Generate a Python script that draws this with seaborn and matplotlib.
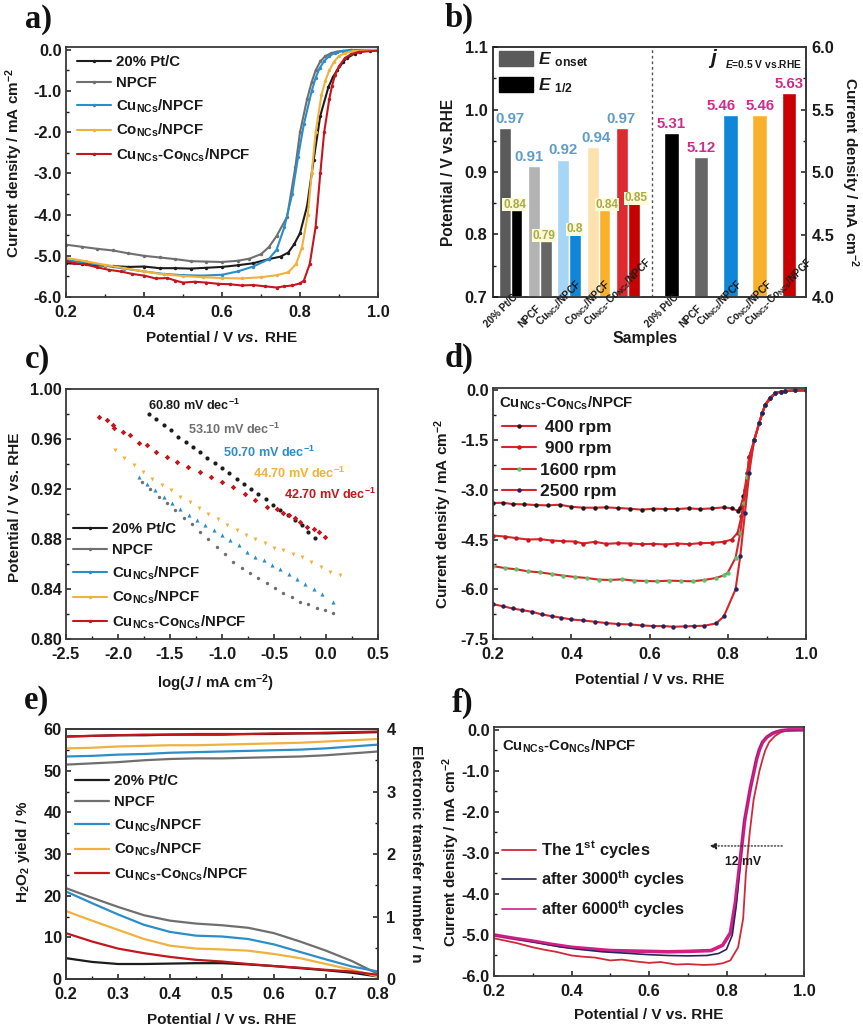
import numpy as np
import pandas as pd
import matplotlib
matplotlib.use("Agg")
import matplotlib.pyplot as plt
import seaborn as sns
from matplotlib.lines import Line2D
from matplotlib.patches import Patch
from matplotlib.ticker import AutoMinorLocator, MultipleLocator, FormatStrFormatter
from matplotlib.transforms import ScaledTranslation

W, H = 863, 1029

BLACK = "#1c1c1c"
GREY = "#6f6f6f"
BLUE = "#2b8ec9"
ORANGE = "#efb23f"
RED = "#c4161d"

PT = "20% Pt/C"
NPCF = "NPCF"
CU = r"Cu$_{\mathrm{NCs}}$/NPCF"
CO = r"Co$_{\mathrm{NCs}}$/NPCF"
CUCO = r"Cu$_{\mathrm{NCs}}$-Co$_{\mathrm{NCs}}$/NPCF"
sample_names = [PT, NPCF, CU, CO, CUCO]
sample_colors = [BLACK, GREY, BLUE, ORANGE, RED]

# panel a, LSV curves
a_pt_x = [0.20, 0.24, 0.28, 0.32, 0.36, 0.40, 0.44, 0.48, 0.52, 0.56, 0.60, 0.64, 0.68, 0.72, 0.75, 0.77, 0.785, 0.80, 0.818, 0.835, 0.852, 0.873, 0.885, 0.895, 0.91, 0.92, 0.94, 0.955, 0.98, 1.00]
a_pt_y = [-5.18, -5.20, -5.23, -5.25, -5.27, -5.26, -5.30, -5.30, -5.31, -5.29, -5.27, -5.23, -5.18, -5.08, -5.02, -4.92, -4.72, -4.45, -3.80, -2.67, -1.60, -0.90, -0.65, -0.50, -0.30, -0.20, -0.09, -0.04, -0.015, -0.01]
a_npcf_x = [0.20, 0.24, 0.28, 0.32, 0.36, 0.40, 0.44, 0.48, 0.52, 0.56, 0.60, 0.64, 0.67, 0.70, 0.72, 0.74, 0.767, 0.788, 0.80, 0.818, 0.83, 0.84, 0.852, 0.865, 0.88, 0.895, 0.93, 1.00]
a_npcf_y = [-4.73, -4.78, -4.83, -4.87, -4.94, -5.00, -5.04, -5.08, -5.13, -5.14, -5.15, -5.12, -5.07, -4.96, -4.79, -4.52, -4.05, -2.85, -2.00, -1.20, -0.78, -0.50, -0.28, -0.15, -0.08, -0.04, 0.00, 0.00]
a_cu_x = [0.20, 0.25, 0.30, 0.35, 0.40, 0.45, 0.50, 0.55, 0.60, 0.64, 0.68, 0.72, 0.74, 0.76, 0.78, 0.795, 0.81, 0.83, 0.84, 0.85, 0.862, 0.875, 0.89, 0.91, 1.00]
a_cu_y = [-5.10, -5.17, -5.24, -5.31, -5.38, -5.44, -5.47, -5.48, -5.46, -5.38, -5.26, -5.08, -4.85, -4.30, -3.50, -2.60, -1.80, -1.00, -0.68, -0.45, -0.27, -0.15, -0.07, -0.03, 0.00]
a_co_x = [0.20, 0.25, 0.30, 0.35, 0.40, 0.45, 0.50, 0.55, 0.60, 0.65, 0.70, 0.74, 0.77, 0.79, 0.805, 0.82, 0.83, 0.84, 0.855, 0.865, 0.875, 0.887, 0.90, 0.915, 0.935, 1.00]
a_co_y = [-5.05, -5.13, -5.22, -5.30, -5.38, -5.45, -5.49, -5.52, -5.54, -5.55, -5.52, -5.47, -5.40, -5.20, -4.80, -4.00, -3.00, -2.00, -1.10, -0.75, -0.50, -0.29, -0.15, -0.08, -0.03, 0.00]
a_cuco_x = [0.20, 0.22, 0.25, 0.28, 0.31, 0.34, 0.37, 0.40, 0.43, 0.46, 0.48, 0.50, 0.53, 0.56, 0.59, 0.62, 0.65, 0.68, 0.71, 0.74, 0.76, 0.78, 0.80, 0.81, 0.825, 0.84, 0.852, 0.862, 0.875, 0.882, 0.89, 0.90, 0.915, 0.93, 0.95, 1.00]
a_cuco_y = [-5.12, -5.18, -5.21, -5.28, -5.34, -5.38, -5.44, -5.48, -5.55, -5.54, -5.60, -5.65, -5.63, -5.65, -5.68, -5.69, -5.72, -5.71, -5.74, -5.77, -5.74, -5.72, -5.67, -5.60, -5.20, -4.30, -3.00, -2.00, -1.20, -0.88, -0.60, -0.40, -0.20, -0.11, -0.05, -0.02]

# panel b, bars
e_onset = [0.97, 0.91, 0.92, 0.94, 0.97]
e_half = [0.84, 0.79, 0.80, 0.84, 0.85]
j_limit = [5.31, 5.12, 5.46, 5.46, 5.63]
onset_colors = ["#5a5a5a", "#b3b3b3", "#a6d5f5", "#fde2ae", "#dc2a30"]
half_colors = ["#000000", "#666666", "#0f86d8", "#fbb02c", "#c80000"]
right_colors = half_colors

# panel c, Tafel points
c_pt_x = [-1.70, -1.63, -1.56, -1.49, -1.42, -1.35, -1.28, -1.21, -1.14, -1.07, -1.00, -0.93, -0.86, -0.79, -0.72, -0.65, -0.58, -0.51, -0.44, -0.37, -0.30, -0.23, -0.17, -0.11]
c_pt_y = [0.980, 0.976, 0.971, 0.967, 0.962, 0.958, 0.954, 0.950, 0.945, 0.941, 0.937, 0.933, 0.928, 0.924, 0.920, 0.916, 0.912, 0.907, 0.903, 0.899, 0.895, 0.891, 0.886, 0.881]
c_npcf_x = [-1.77, -1.69, -1.61, -1.53, -1.45, -1.37, -1.29, -1.21, -1.13, -1.05, -0.97, -0.89, -0.81, -0.73, -0.65, -0.57, -0.49, -0.41, -0.33, -0.25, -0.17, -0.09, -0.01, 0.07]
c_npcf_y = [0.926, 0.920, 0.914, 0.909, 0.903, 0.897, 0.892, 0.886, 0.880, 0.874, 0.868, 0.862, 0.857, 0.853, 0.849, 0.845, 0.841, 0.837, 0.834, 0.830, 0.828, 0.825, 0.823, 0.821]
c_cu_x = [-1.80, -1.72, -1.64, -1.56, -1.48, -1.40, -1.32, -1.24, -1.16, -1.08, -1.00, -0.92, -0.84, -0.76, -0.68, -0.60, -0.52, -0.44, -0.36, -0.28, -0.20, -0.12, -0.04, 0.07]
c_cu_y = [0.930, 0.924, 0.919, 0.914, 0.909, 0.904, 0.899, 0.895, 0.891, 0.887, 0.883, 0.879, 0.875, 0.870, 0.866, 0.863, 0.859, 0.856, 0.852, 0.848, 0.844, 0.840, 0.836, 0.830]
c_co_x = [-2.03, -1.94, -1.85, -1.76, -1.67, -1.58, -1.49, -1.40, -1.31, -1.22, -1.13, -1.04, -0.95, -0.86, -0.77, -0.68, -0.59, -0.50, -0.41, -0.32, -0.23, -0.14, -0.05, 0.04, 0.13]
c_co_y = [0.951, 0.945, 0.939, 0.934, 0.928, 0.923, 0.919, 0.914, 0.910, 0.905, 0.900, 0.896, 0.891, 0.887, 0.883, 0.880, 0.877, 0.873, 0.871, 0.868, 0.866, 0.862, 0.858, 0.854, 0.851]
c_cuco_x = [-2.18, -2.11, -2.05, -2.04, -1.95, -1.88, -1.80, -1.72, -1.63, -1.53, -1.43, -1.33, -1.21, -1.11, -1.00, -0.89, -0.78, -0.68, -0.57, -0.47, -0.41, -0.36, -0.30, -0.25, -0.18, -0.12, -0.07, -0.01]
c_cuco_y = [0.978, 0.975, 0.971, 0.969, 0.966, 0.963, 0.957, 0.955, 0.950, 0.946, 0.942, 0.938, 0.934, 0.930, 0.926, 0.922, 0.916, 0.911, 0.906, 0.904, 0.901, 0.899, 0.897, 0.894, 0.890, 0.888, 0.886, 0.882]
tafel_labels = ["60.80 mV dec$^{-1}$", "53.10 mV dec$^{-1}$", "50.70 mV dec$^{-1}$", "44.70 mV dec$^{-1}$", "42.70 mV dec$^{-1}$"]

# panel d, rotating speeds
d_rpm = [" 400 rpm", " 900 rpm", "1600 rpm", "2500 rpm"]
d_marker_colors = ["#1a1a1a", "#c8181e", "#5cc46a", "#23235f"]
d_400_x = [0.20, 0.225, 0.25, 0.28, 0.31, 0.34, 0.37, 0.40, 0.43, 0.46, 0.49, 0.52, 0.55, 0.58, 0.61, 0.64, 0.67, 0.70, 0.73, 0.76, 0.79, 0.81, 0.825, 0.832, 0.84, 0.85, 0.855, 0.868, 0.88, 0.888, 0.896, 0.908, 0.922, 0.935, 0.947, 0.973, 1.00]
d_400_y = [-3.40, -3.39, -3.43, -3.44, -3.46, -3.47, -3.45, -3.51, -3.54, -3.54, -3.53, -3.55, -3.57, -3.60, -3.57, -3.58, -3.58, -3.56, -3.58, -3.56, -3.53, -3.56, -3.63, -3.55, -3.20, -2.50, -2.00, -1.50, -1.00, -0.68, -0.43, -0.22, -0.08, -0.04, -0.02, 0.00, 0.00]
d_900_x = [0.20, 0.23, 0.26, 0.29, 0.32, 0.35, 0.38, 0.41, 0.43, 0.46, 0.49, 0.52, 0.55, 0.58, 0.61, 0.64, 0.67, 0.70, 0.73, 0.76, 0.79, 0.81, 0.825, 0.835, 0.845, 0.855, 0.868, 0.88, 0.896, 0.922, 0.947, 1.00]
d_900_y = [-4.38, -4.41, -4.46, -4.50, -4.49, -4.53, -4.55, -4.56, -4.62, -4.57, -4.63, -4.61, -4.62, -4.64, -4.63, -4.65, -4.62, -4.64, -4.61, -4.60, -4.57, -4.50, -4.30, -3.80, -3.00, -2.00, -1.50, -1.00, -0.43, -0.08, -0.02, 0.00]
d_1600_x = [0.20, 0.23, 0.26, 0.29, 0.32, 0.35, 0.38, 0.41, 0.44, 0.47, 0.50, 0.53, 0.56, 0.59, 0.62, 0.65, 0.68, 0.71, 0.74, 0.77, 0.79, 0.80, 0.82, 0.832, 0.842, 0.85, 0.868, 0.88, 0.896, 0.922, 0.947, 1.00]
d_1600_y = [-5.30, -5.36, -5.40, -5.46, -5.49, -5.54, -5.59, -5.63, -5.66, -5.71, -5.72, -5.70, -5.74, -5.75, -5.76, -5.74, -5.75, -5.76, -5.72, -5.66, -5.58, -5.50, -5.05, -4.30, -3.40, -2.60, -1.50, -1.00, -0.43, -0.08, -0.02, 0.00]
d_2500_x = [0.20, 0.225, 0.25, 0.275, 0.30, 0.325, 0.35, 0.375, 0.40, 0.43, 0.46, 0.49, 0.52, 0.55, 0.58, 0.61, 0.635, 0.66, 0.69, 0.715, 0.74, 0.77, 0.79, 0.82, 0.832, 0.844, 0.855, 0.867, 0.88, 0.888, 0.896, 0.908, 0.922, 0.935, 0.947, 0.973, 1.00]
d_2500_y = [-6.45, -6.51, -6.58, -6.63, -6.68, -6.76, -6.81, -6.86, -6.91, -6.94, -6.98, -7.02, -7.05, -7.06, -7.09, -7.11, -7.11, -7.13, -7.12, -7.11, -7.10, -7.03, -6.82, -6.00, -5.00, -3.70, -2.50, -1.50, -1.00, -0.68, -0.43, -0.22, -0.08, -0.04, -0.02, 0.00, 0.00]

# panel e, yield (left axis) and transfer number (right axis)
e_x = [0.20, 0.25, 0.30, 0.35, 0.40, 0.45, 0.50, 0.55, 0.60, 0.65, 0.70, 0.75, 0.80]
yield_pt = [5.0, 4.1, 3.6, 3.6, 3.7, 3.8, 3.8, 3.5, 3.1, 2.6, 2.1, 1.5, 0.6]
yield_npcf = [21.8, 19.5, 17.3, 15.3, 14.0, 13.3, 12.9, 12.3, 11.0, 9.0, 6.8, 4.3, 1.2]
yield_cu = [21.0, 18.2, 15.5, 13.0, 11.3, 10.4, 10.2, 9.6, 8.3, 6.5, 4.7, 3.0, 1.8]
yield_co = [16.3, 14.0, 11.8, 9.6, 8.0, 7.3, 7.1, 6.8, 6.0, 5.0, 3.6, 2.2, 0.6]
yield_cuco = [11.0, 9.0, 7.3, 6.2, 5.3, 4.6, 4.2, 3.6, 3.1, 2.7, 2.2, 1.8, 1.0]
n_pt = [3.88, 3.89, 3.90, 3.90, 3.91, 3.91, 3.91, 3.92, 3.92, 3.93, 3.93, 3.94, 3.95]
n_npcf = [3.43, 3.45, 3.47, 3.50, 3.52, 3.53, 3.53, 3.54, 3.55, 3.56, 3.58, 3.61, 3.64]
n_cu = [3.56, 3.57, 3.59, 3.60, 3.62, 3.63, 3.64, 3.65, 3.66, 3.67, 3.69, 3.72, 3.75]
n_co = [3.69, 3.70, 3.72, 3.73, 3.74, 3.74, 3.75, 3.76, 3.77, 3.78, 3.80, 3.82, 3.84]
n_cuco = [3.88, 3.89, 3.90, 3.91, 3.91, 3.92, 3.92, 3.92, 3.93, 3.93, 3.94, 3.95, 3.96]

# panel f, stability
f_first_x = [0.20, 0.23, 0.26, 0.30, 0.33, 0.36, 0.40, 0.43, 0.46, 0.50, 0.53, 0.56, 0.60, 0.63, 0.67, 0.70, 0.74, 0.77, 0.79, 0.81, 0.83, 0.843, 0.85, 0.86, 0.87, 0.885, 0.893, 0.90, 0.91, 0.925, 0.94, 0.95, 1.00]
f_first_y = [-5.08, -5.14, -5.20, -5.30, -5.36, -5.41, -5.50, -5.53, -5.55, -5.62, -5.60, -5.64, -5.68, -5.66, -5.72, -5.71, -5.73, -5.72, -5.69, -5.62, -5.30, -4.60, -3.50, -2.50, -1.70, -1.00, -0.72, -0.50, -0.30, -0.15, -0.06, -0.03, 0.00]
f_3000_x = [0.20, 0.26, 0.32, 0.37, 0.42, 0.48, 0.55, 0.60, 0.65, 0.70, 0.75, 0.78, 0.80, 0.815, 0.825, 0.835, 0.845, 0.86, 0.875, 0.882, 0.89, 0.90, 0.915, 0.93, 0.95, 1.00]
f_3000_y = [-5.00, -5.10, -5.20, -5.29, -5.35, -5.41, -5.45, -5.48, -5.50, -5.51, -5.50, -5.45, -5.35, -5.00, -4.30, -3.30, -2.30, -1.50, -0.80, -0.55, -0.35, -0.21, -0.10, -0.04, -0.01, 0.00]
f_6000_x = [0.20, 0.25, 0.30, 0.35, 0.40, 0.45, 0.50, 0.55, 0.60, 0.65, 0.70, 0.76, 0.79, 0.81, 0.823, 0.835, 0.847, 0.862, 0.878, 0.885, 0.893, 0.905, 0.92, 0.94, 0.96, 1.00]
f_6000_y = [-5.00, -5.08, -5.15, -5.23, -5.30, -5.34, -5.38, -5.39, -5.40, -5.41, -5.40, -5.38, -5.25, -4.95, -4.20, -3.20, -2.20, -1.40, -0.70, -0.48, -0.30, -0.17, -0.08, -0.02, 0.00, 0.00]


sns.set_theme(style="ticks", rc={
    "axes.edgecolor": "#3a3a3a",
    "axes.linewidth": 1.3,
    "axes.unicode_minus": False,
    "axes.labelcolor": "#1a1a1a",
    "text.color": "#1a1a1a",
    "xtick.color": "#1a1a1a",
    "ytick.color": "#1a1a1a",
    "xtick.direction": "in",
    "ytick.direction": "in",
    "mathtext.fontset": "custom",
    "mathtext.rm": "Liberation Sans:bold",
    "mathtext.bf": "Liberation Sans:bold",
    "mathtext.it": "Liberation Sans:italic:bold",
    "mathtext.default": "rm",
})
plt.rcParams["font.family"] = ["Liberation Sans", "DejaVu Sans"]
plt.rcParams["font.weight"] = "bold"
plt.rcParams["axes.labelweight"] = "bold"


def make_axes(fig, left, right, top, bottom):
    return fig.add_axes([left / W, 1 - bottom / H, (right - left) / W, (bottom - top) / H])


def style_axes(ax, xmajor, ymajor, xfmt, yfmt, ticksize=11.8):
    ax.xaxis.set_major_locator(MultipleLocator(xmajor))
    ax.yaxis.set_major_locator(MultipleLocator(ymajor))
    ax.xaxis.set_minor_locator(AutoMinorLocator(2))
    ax.yaxis.set_minor_locator(AutoMinorLocator(2))
    ax.xaxis.set_major_formatter(FormatStrFormatter(xfmt))
    ax.yaxis.set_major_formatter(FormatStrFormatter(yfmt))
    ax.tick_params(which="major", length=3.5, width=1.1, labelsize=ticksize, pad=3)
    ax.tick_params(which="minor", length=2, width=1.0)
    ax.tick_params(axis="x", which="major", pad=6)


def curve(ax, x, y, color, label=None, lw=1.5, marker="o", ms=2.5, mfc=None):
    sns.lineplot(x=x, y=y, color=color, label=label, lw=lw, marker=marker, markersize=ms,
                 markerfacecolor=mfc or color, markeredgewidth=0, sort=False, errorbar=None, ax=ax)


def legend_box(ax, handles, labels, x, y, size=10.8, spacing=0.48, hlen=2.25, **kws):
    kws.setdefault("handletextpad", 0.33)
    ax.legend(handles, labels, loc="upper left", bbox_to_anchor=(x, y), frameon=False, fontsize=size,
              labelspacing=spacing, handlelength=hlen, borderpad=0, borderaxespad=0, **kws)


fig = plt.figure(figsize=(W / 100, H / 100), dpi=100)

LABEL_SIZE = 11
panel_marks = [("a)", 25, 28), ("b)", 445, 27), ("c)", 25, 368), ("d)", 445, 367), ("e)", 24, 709), ("f)", 452, 712)]
for mark, px, py in panel_marks:
    fig.text(px / W, 1 - py / H, mark, family="Liberation Serif", weight="bold", size=23.5, color="#111111")

# a
ax = make_axes(fig, 66, 378, 47, 297)
a_series = [(a_pt_x, a_pt_y), (a_npcf_x, a_npcf_y), (a_cu_x, a_cu_y), (a_co_x, a_co_y), (a_cuco_x, a_cuco_y)]
for (x, y), name, color in zip(a_series, sample_names, sample_colors):
    curve(ax, x, y, color, label=name)
ax.set_xlim(0.2, 1.0)
ax.set_ylim(-6, 0.07)
style_axes(ax, 0.2, 1, "%.1f", "%.1f")
ax.set_xlabel(r"Potential / V $\mathit{vs.}$ RHE", fontsize=LABEL_SIZE, labelpad=7)
ax.set_ylabel("Current density / mA cm$^{-2}$", fontsize=LABEL_SIZE, labelpad=6)
ax.yaxis.label.set_y(0.536)
h, l = ax.get_legend_handles_labels()
legend_box(ax, h, l, 0.035, 0.968)

# b
ax = make_axes(fig, 493, 806, 47, 297)
group_pos = np.arange(5)
right_pos = np.arange(5) + 5.5
sns.barplot(x=group_pos - 0.2, y=e_onset, hue=sample_names, palette=onset_colors, native_scale=True,
            dodge=False, width=0.4, legend=False, ax=ax, saturation=1)
sns.barplot(x=group_pos + 0.2, y=e_half, hue=sample_names, palette=half_colors, native_scale=True,
            dodge=False, width=0.4, legend=False, ax=ax, saturation=1)
ax.set_xlim(-0.6, 10.08)
ax.set_ylim(0.7, 1.1)
ax.yaxis.set_major_locator(MultipleLocator(0.1))
ax.yaxis.set_minor_locator(AutoMinorLocator(2))
ax.yaxis.set_major_formatter(FormatStrFormatter("%.1f"))
ax.tick_params(axis="y", which="major", length=3.5, width=1.1, labelsize=11.8, pad=4)
ax.tick_params(axis="y", which="minor", length=2, width=1.0)
ax.axvline(4.83, color="#555555", lw=1.0, ls=(0, (2, 2)))
ax.set_ylabel("Potential / V vs.RHE", fontsize=11.2, labelpad=6)
ax.set_xlabel("Samples", fontsize=11.3, labelpad=0)
ax.set_xticks(list(group_pos) + list(right_pos))
ax.set_xticklabels(sample_names + sample_names, rotation=45, fontsize=7.2, ha="center", va="bottom")
ax.tick_params(axis="x", length=0, pad=23)
for tick in ax.get_xticklabels():
    tick.set_transform(tick.get_transform() + ScaledTranslation(-10 / 100, 0, fig.dpi_scale_trans))
ax.xaxis.set_label_coords(0.485, -0.135)
onset_dx = [16, -14, 0, 10, -3]
half_dx = [-6, -4, -2, 8, 8]
for i, v in enumerate(e_onset):
    ax.annotate(f"{v:g}", (group_pos[i] - 0.2, v), xytext=(onset_dx[i] / 3, 9), textcoords="offset pixels",
                ha="center", va="center", fontsize=10.8, color="#5f9cc6")
for i, v in enumerate(e_half):
    ax.annotate(f"{v:g}", (group_pos[i] + 0.2, v), xytext=(half_dx[i] / 3, 5), textcoords="offset pixels",
                ha="center", va="center", fontsize=8.5, color="#a9a94f",
                bbox=dict(facecolor="#fbfbd6", edgecolor="none", pad=0.4))
legend_box(ax, [Patch(color="#5a5a5a"), Patch(color="#000000")], [r"$\mathit{E}$ $_{\mathrm{onset}}$", r"$\mathit{E}$ $_{\mathrm{1/2}}$"],
           0.02, 0.985, size=12.5, spacing=0.42, hlen=1.95, handleheight=0.95, handletextpad=0.3)
axr = ax.twinx()
sns.barplot(x=right_pos, y=j_limit, hue=sample_names, palette=right_colors, native_scale=True,
            dodge=False, width=0.5, legend=False, ax=axr, saturation=1)
axr.set_xlim(-0.6, 10.08)
axr.set_ylim(4, 6)
axr.yaxis.set_major_locator(MultipleLocator(0.5))
axr.yaxis.set_minor_locator(AutoMinorLocator(2))
axr.yaxis.set_major_formatter(FormatStrFormatter("%.1f"))
axr.tick_params(axis="y", which="major", length=3.5, width=1.1, labelsize=11.8, pad=4)
axr.tick_params(axis="y", which="minor", length=2, width=1.0)
axr.set_ylabel("Current density / mA cm$^{-2}$", fontsize=11, rotation=270, va="bottom", labelpad=3)
right_dx = [-3, 0, -29, 0, -1]
for i, v in enumerate(j_limit):
    axr.annotate(f"{v:.2f}", (right_pos[i], v), xytext=(right_dx[i] / 3, 9), textcoords="offset pixels",
                 ha="center", va="center", fontsize=10.8, color="#d02c8e")
axr.text(0.688, 0.955, r"$\mathit{j}$", transform=axr.transAxes, fontsize=15, ha="left", va="center")
axr.text(0.986, 0.933, r"$\mathit{E}$=0.5 V vs.RHE", transform=axr.transAxes, ha="right", va="center", fontsize=7.4)
# the left axes carries the slanted tick labels, they sit over the right bars
ax.set_zorder(axr.get_zorder() + 1)
ax.patch.set_visible(False)
ax.set_axisbelow(False)

# c
ax = make_axes(fig, 66, 378, 389, 639)
c_series = [(c_pt_x, c_pt_y, "o", 9), (c_npcf_x, c_npcf_y, "o", 6), (c_cu_x, c_cu_y, "^", 9), (c_co_x, c_co_y, "v", 8), (c_cuco_x, c_cuco_y, "D", 8)]
for (x, y, m, s), color in zip(c_series, sample_colors):
    sns.scatterplot(x=x, y=y, color=color, marker=m, s=s, linewidth=0, ax=ax)
ax.set_xlim(-2.5, 0.5)
ax.set_ylim(0.80, 1.00)
style_axes(ax, 0.5, 0.04, "%.1f", "%.2f")
ax.set_xlabel("log($\\mathit{J}$ / mA cm$^{-2}$)", fontsize=10.8, labelpad=7)
ax.xaxis.label.set_x(0.48)
ax.set_ylabel("Potential / V vs. RHE", fontsize=LABEL_SIZE, labelpad=6)
ax.yaxis.label.set_y(0.528)
tafel_pos = [(-1.71, 0.9865), (-1.33, 0.9675), (-0.99, 0.9490), (-0.70, 0.9325), (-0.40, 0.9155)]
for text, (tx, ty), color in zip(tafel_labels, tafel_pos, sample_colors):
    ax.text(tx, ty, text, fontsize=9.1, color=color, va="center")
c_handles = [Line2D([], [], color=col, lw=1.5, marker="o", ms=2.5, mew=0) for col in sample_colors]
legend_box(ax, c_handles, sample_names, 0.022, 0.468)

# d
ax = make_axes(fig, 493, 806, 388, 639)
d_series = [(d_400_x, d_400_y), (d_900_x, d_900_y), (d_1600_x, d_1600_y), (d_2500_x, d_2500_y)]
for (x, y), name, mcol in zip(d_series, d_rpm, d_marker_colors):
    curve(ax, x, y, "#d6262b", label=name, ms=3.2, mfc=mcol)
ax.set_xlim(0.2, 1.0)
ax.set_ylim(-7.5, 0.07)
style_axes(ax, 0.2, 1.5, "%.1f", "%.1f")
ax.set_xlabel("Potential / V vs. RHE", fontsize=LABEL_SIZE, labelpad=8)
ax.set_ylabel("Current density / mA cm$^{-2}$", fontsize=LABEL_SIZE, labelpad=5)
ax.text(0.02, 0.94, CUCO, transform=ax.transAxes, fontsize=10.8, va="center")
h, l = ax.get_legend_handles_labels()
legend_box(ax, h, l, 0.028, 0.873, size=12.5, spacing=0.36, hlen=1.95, handletextpad=0.25)

# e
ax = make_axes(fig, 66, 378, 729, 979)
for y, name, color in zip([yield_pt, yield_npcf, yield_cu, yield_co, yield_cuco], sample_names, sample_colors):
    curve(ax, e_x, y, color, label=name, marker=None, lw=1.6)
ax.set_xlim(0.2, 0.8)
ax.set_ylim(0, 60)
style_axes(ax, 0.1, 10, "%.1f", "%d")
ax.set_xlabel("Potential / V vs. RHE", fontsize=LABEL_SIZE, labelpad=8)
ax.set_ylabel("H$_{2}$O$_{2}$ yield / %", fontsize=LABEL_SIZE, labelpad=8)
ax.yaxis.label.set_y(0.508)
h, l = ax.get_legend_handles_labels()
legend_box(ax, h, l, 0.029, 0.82)
axr = ax.twinx()
for y, color in zip([n_pt, n_npcf, n_cu, n_co, n_cuco], sample_colors):
    curve(axr, e_x, y, color, marker=None, lw=1.6)
axr.set_xlim(0.2, 0.8)
axr.set_ylim(0, 4)
axr.yaxis.set_major_locator(MultipleLocator(1))
axr.yaxis.set_minor_locator(AutoMinorLocator(2))
axr.tick_params(axis="y", which="major", length=3.5, width=1.1, labelsize=11.8, pad=6)
axr.tick_params(axis="y", which="minor", length=2, width=1.0)
axr.set_ylabel("Electronic transfer number / n", fontsize=LABEL_SIZE, rotation=270, va="bottom", labelpad=10)

# f
ax = make_axes(fig, 494, 804, 727, 976)
curve(ax, f_first_x, f_first_y, "#cf2a3a", label="The 1$^{\\mathrm{st}}$ cycles", marker=None, lw=1.3)
curve(ax, f_6000_x, f_6000_y, "#d21f84", label=None, marker=None, lw=2.6)
curve(ax, f_3000_x, f_3000_y, "#26265f", label=r"after 3000$^{\mathrm{th}}$ cycles", marker=None, lw=1.2)
curve(ax, f_6000_x, f_6000_y, "#d21f84", label=r"after 6000$^{\mathrm{th}}$ cycles", marker=None, lw=1.2)
ax.set_xlim(0.2, 1.0)
ax.set_ylim(-6, 0.07)
style_axes(ax, 0.2, 1, "%.1f", "%.1f")
ax.set_xlabel("Potential / V vs. RHE", fontsize=LABEL_SIZE, labelpad=6)
ax.set_ylabel("Current density / mA cm$^{-2}$", fontsize=LABEL_SIZE, labelpad=0)
ax.text(0.025, 0.922, CUCO, transform=ax.transAxes, fontsize=10.8, va="center")
ax.annotate("", xy=(0.749, -2.83), xytext=(0.951, -2.83),
            arrowprops=dict(arrowstyle="-|>", color="#222222", lw=0.9, ls=":", mutation_scale=10))
ax.text(0.842, -3.22, "12 mV", fontsize=8.8, ha="center", va="center")
h, l = ax.get_legend_handles_labels()
legend_box(ax, h, l, 0.026, 0.549, size=11.8, spacing=0.5, hlen=2.05)

fig.savefig("out.png", dpi=100)
